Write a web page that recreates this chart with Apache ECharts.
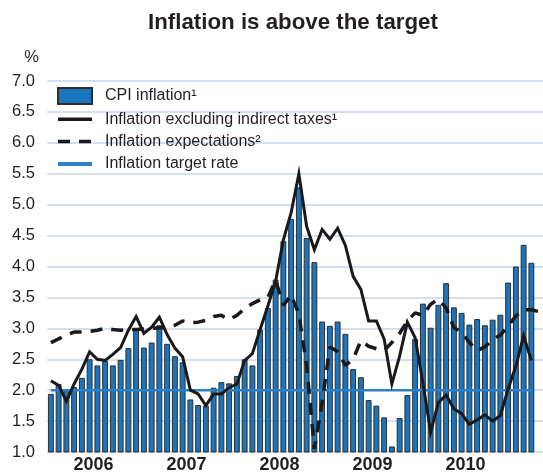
<!DOCTYPE html>
<html>
<head>
<meta charset="utf-8">
<script src="https://cdn.jsdelivr.net/npm/echarts@6/dist/echarts.min.js"></script>
<style>
  html, body { margin: 0; padding: 0; background: #fff; }
  #chart { width: 543px; height: 474px; }
</style>
</head>
<body>
<div id="chart"></div>
<script>
// Monthly observations, January 2006 to April 2011
const years = ['2006', '2007', '2008', '2009', '2010'];
const startYear = 2006;
const monthCount = 64;
const months = [];
for (let i = 0; i < monthCount; i++) {
  months.push(`${startYear + Math.floor(i / 12)}-${String(i % 12 + 1).padStart(2, '0')}`);
}

// CPI inflation, % (bars)
const cpiInflation = [
  1.94, 2.1, 2.0, 2.05, 2.2, 2.5, 2.4, 2.47, 2.4, 2.49,
  2.68, 2.97, 2.69, 2.77, 3.05, 2.75, 2.55, 2.45, 1.85, 1.76,
  1.75, 2.04, 2.13, 2.11, 2.23, 2.5, 2.4, 2.98, 3.33, 3.79,
  4.41, 4.77, 5.28, 4.46, 4.07, 3.11, 3.04, 3.11, 2.91, 2.34,
  2.21, 1.84, 1.75, 1.56, 1.09, 1.55, 1.92, 2.83, 3.4, 3.01,
  3.38, 3.73, 3.34, 3.25, 3.06, 3.15, 3.05, 3.14, 3.22, 3.74,
  4.0, 4.35, 4.06, null
];

// Inflation excluding indirect taxes, %
const exIndirectTaxes = [
  2.15, 2.08, 1.82, 2.1, 2.34, 2.62, 2.5, 2.48, 2.58, 2.69,
  2.97, 3.19, 2.92, 3.02, 3.18, 2.9, 2.68, 2.54, 2.0, 1.94,
  1.75, 1.94, 1.94, 2.04, 2.1, 2.48, 2.59, 2.98, 3.36, 3.76,
  4.43, 4.87, 5.5, 4.65, 4.27, 4.6, 4.44, 4.62, 4.34, 3.84,
  3.63, 3.12, 3.12, 2.83, 2.1, 2.55, 3.1, 2.85, 2.12, 1.32,
  1.8, 1.92, 1.7, 1.62, 1.45, 1.52, 1.6, 1.5, 1.59, 2.02,
  2.39, 2.88, 2.48, null
];

// Inflation expectations, %
const expectations = [
  2.77, 2.83, 2.89, 2.94, 2.94, 2.95, 2.97, 3.0, 2.98, 2.97,
  2.98, 2.98, 2.99, 3.0, 3.01, 3.01, 3.05, 3.12, 3.09, 3.1,
  3.13, 3.19, 3.21, 3.14, 3.21, 3.32, 3.4, 3.46, 3.5, 3.78,
  3.37, 3.54, 3.23, 2.4, 1.05, 1.8, 2.7, 2.62, 2.4, 2.5,
  2.8, 2.71, 2.67, 2.64, 2.77, 2.92, 3.12, 3.25, 3.21, 3.39,
  3.47, 3.33, 3.01, 2.94, 2.77, 2.64, 2.7, 2.82, 2.89, 3.04,
  3.2, 3.3, 3.3, 3.27
];

// Inflation target rate, %
const targetRate = [
  2, 2, 2, 2, 2, 2, 2, 2, 2, 2, 2, 2, 2, 2, 2, 2,
  2, 2, 2, 2, 2, 2, 2, 2, 2, 2, 2, 2, 2, 2, 2, 2,
  2, 2, 2, 2, 2, 2, 2, 2, 2, 2, 2, 2, 2, 2, 2, 2,
  2, 2, 2, 2, 2, 2, 2, 2, 2, 2, 2, 2, 2, 2, 2, null
];

const yTicks = ['1.0', '1.5', '2.0', '2.5', '3.0', '3.5', '4.0', '4.5', '5.0', '5.5', '6.0', '6.5', '7.0'];

const names = {
  cpi: 'CPI inflation¹',
  ex: 'Inflation excluding indirect taxes¹',
  exp: 'Inflation expectations²',
  target: 'Inflation target rate'
};

const font = '"Liberation Sans", Arial, Helvetica, sans-serif';
const ink = '#231f20';
const lineInk = '#1a1a1a';
const barBlue = '#1b75bc';
const targetBlue = '#2f7fc4';
const dash = [12, 9];
// line-only legend keys: hide the marker that line series add to their key
const noMarker = { color: 'rgba(0,0,0,0)', borderColor: 'rgba(0,0,0,0)', borderWidth: 0 };

const chart = echarts.init(document.getElementById('chart'), null, { renderer: 'canvas' });

chart.setOption({
  animation: false,
  backgroundColor: '#ffffff',
  textStyle: { fontFamily: font },
  title: {
    text: 'Inflation is above the target',
    left: 148,
    top: 12,
    padding: 0,
    textStyle: { fontFamily: font, fontSize: 22.3, fontWeight: 'bold', color: ink }
  },
  legend: {
    orient: 'vertical',
    left: 56,
    top: 87,
    padding: 0,
    itemWidth: 34,
    itemHeight: 16,
    itemGap: 6.3,
    selectedMode: false,
    textStyle: { fontFamily: font, fontSize: 16, color: ink, padding: [0, 0, 0, 8] },
    data: [
      { name: names.cpi, icon: 'rect' },
      { name: names.ex, itemStyle: noMarker, lineStyle: { color: lineInk, width: 3.5, type: 'solid' } },
      { name: names.exp, itemStyle: noMarker, lineStyle: { color: lineInk, width: 3.5, type: dash } },
      { name: names.target, itemStyle: noMarker, lineStyle: { color: targetBlue, width: 4, type: 'solid' } }
    ]
  },
  grid: { left: 47, right: 0, top: 81, bottom: 21, containLabel: false },
  xAxis: [
    {
      type: 'category',
      data: months,
      boundaryGap: true,
      axisLine: { show: false },
      axisTick: { show: false },
      axisLabel: { show: false },
      splitLine: { show: false }
    },
    {
      type: 'value',
      position: 'bottom',
      min: -0.5,
      max: monthCount - 0.5,
      axisLine: { show: false },
      axisTick: { show: false },
      splitLine: { show: false },
      axisLabel: {
        customValues: years.map((y, i) => i * 12 + 5.5),
        formatter: v => years[Math.floor((v + 0.5) / 12)] || '',
        margin: 4,
        fontFamily: font,
        fontSize: 18,
        fontWeight: 'bold',
        color: ink
      }
    }
  ],
  yAxis: {
    type: 'value',
    min: 1,
    max: 7,
    interval: 0.5,
    name: '%',
    nameLocation: 'end',
    nameGap: 24,
    nameTextStyle: { fontFamily: font, fontSize: 16.5, color: ink, align: 'right', verticalAlign: 'middle', padding: [0, 12, 0, 0] },
    axisLine: { show: false },
    axisTick: { show: false },
    axisLabel: {
      margin: 12,
      fontFamily: font,
      fontSize: 16.5,
      color: ink,
      formatter: v => yTicks[Math.round((v - 1) / 0.5)] || ''
    },
    splitLine: { lineStyle: { color: '#c8d4ee', width: 1.5 } }
  },
  series: [
    {
      name: names.cpi,
      type: 'bar',
      xAxisIndex: 0,
      data: cpiInflation,
      barWidth: 5.9,
      itemStyle: { color: barBlue, borderColor: '#2e2e2e', borderWidth: 1 }
    },
    {
      name: names.target,
      type: 'line',
      xAxisIndex: 0,
      data: targetRate,
      symbol: 'none',
      lineStyle: { color: targetBlue, width: 2.5 },
      itemStyle: { color: targetBlue }
    },
    {
      name: names.ex,
      type: 'line',
      xAxisIndex: 0,
      data: exIndirectTaxes,
      symbol: 'none',
      lineStyle: { color: lineInk, width: 3, join: 'miter', miterLimit: 6 },
      itemStyle: { color: lineInk }
    },
    {
      name: names.exp,
      type: 'line',
      xAxisIndex: 0,
      data: expectations,
      symbol: 'none',
      lineStyle: { color: lineInk, width: 3.5, type: dash },
      itemStyle: { color: lineInk }
    }
  ]
});
</script>
</body>
</html>
